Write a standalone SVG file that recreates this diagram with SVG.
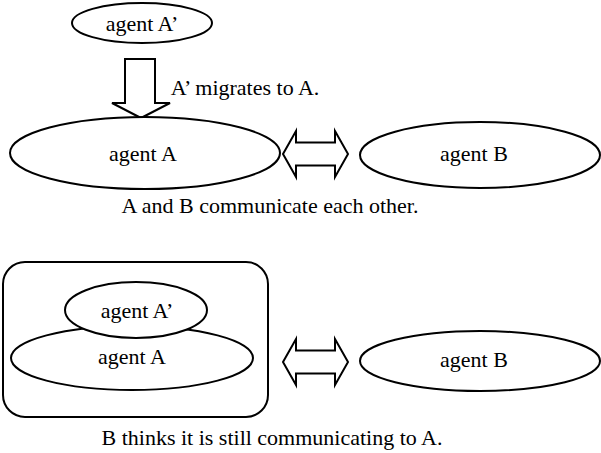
<svg xmlns="http://www.w3.org/2000/svg" width="601" height="453" viewBox="0 0 601 453">
<style>
.s{fill:#fff;stroke:#000;stroke-width:2}
text{font-family:"Liberation Serif","Times New Roman",serif;font-size:22px;fill:#000;text-anchor:middle}
</style>
<rect width="601" height="453" fill="#fff"/>
<g id="connectors">
<path class="s" d="M125,59 H155 V103 H170 L141,118 L112,103 H125 Z"/>
<path class="s" d="M283,154 L296,131 V142.5 H335 V131 L348,154 L335,177 V165.5 H296 V177 Z"/>
<path class="s" d="M283,362 L296,339 V350.5 H335 V339 L348,362 L335,385 V373.5 H296 V385 Z"/>
</g>
<g id="agentA1top"><ellipse class="s" cx="142" cy="23" rx="70" ry="20"/><text x="142" y="31">agent A’</text></g>
<text x="245" y="95">A’ migrates to A.</text>
<g id="agentA"><ellipse class="s" cx="145" cy="153" rx="135" ry="36"/><text x="143" y="161">agent A</text></g>
<g id="agentB"><ellipse class="s" cx="480" cy="155" rx="120" ry="33"/><text x="474" y="161">agent B</text></g>
<text x="270" y="213">A and B communicate each other.</text>
<g id="host"><rect class="s" x="3" y="262" width="265" height="155" rx="22"/></g>
<g id="agentA2"><ellipse class="s" cx="132" cy="358" rx="121" ry="32"/><text x="132" y="364">agent A</text></g>
<g id="agentA1bottom"><ellipse class="s" cx="136" cy="310" rx="71" ry="28"/><text x="137" y="318">agent A’</text></g>
<g id="agentB2"><ellipse class="s" cx="480" cy="361" rx="120" ry="30"/><text x="474" y="367">agent B</text></g>
<text x="272" y="445">B thinks it is still communicating to A.</text>
</svg>
